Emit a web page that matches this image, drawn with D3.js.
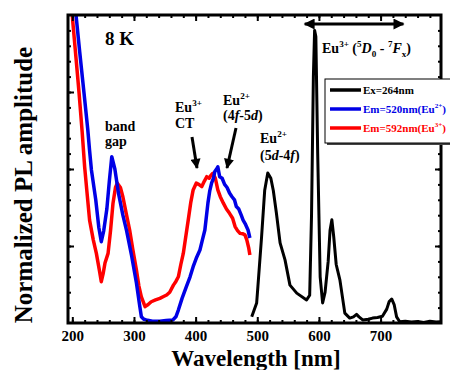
<!DOCTYPE html>
<html>
<head>
<meta charset="utf-8">
<script src="https://cdn.jsdelivr.net/npm/d3@7"></script>
<style>
  body { margin: 0; background: #fff; }
  text { font-family: "Liberation Serif", "Times New Roman", serif; font-weight: bold; }
</style>
</head>
<body>
<div class="chart"></div>
<script>
// wavelength [nm] / normalized amplitude
const exWave = [491, 499, 501, 507, 512, 517, 522, 526, 531, 537, 545, 553, 564, 580, 585, 588, 591, 593, 595, 598, 602, 606, 610, 615, 618, 621, 624, 628, 634, 642, 650, 656, 661, 665, 671, 680, 687, 695, 703, 710, 714, 718, 722, 726, 731, 740, 750, 760, 770, 780, 790, 797];
const exAmp  = [0.02, 0.065, 0.118, 0.28, 0.43, 0.487, 0.47, 0.43, 0.357, 0.26, 0.205, 0.123, 0.097, 0.075, 0.09, 0.35, 0.8, 0.95, 0.93, 0.55, 0.15, 0.065, 0.1, 0.2, 0.3, 0.335, 0.28, 0.19, 0.14, 0.032, 0.016, 0.02, 0.028, 0.02, 0.01, 0.012, 0.016, 0.018, 0.022, 0.045, 0.07, 0.078, 0.06, 0.02, 0.004, 0.006, 0.003, 0.005, 0.002, 0.006, 0.003, 0.004];

const em520Wave = [203, 206, 212, 219, 225, 228, 231, 238, 243, 247, 251, 256, 260, 264, 269, 275, 282, 288, 296, 304, 309, 312, 316, 320, 330, 342, 352, 363, 368, 372, 378, 385, 391, 396, 401, 407, 411, 415, 420, 423, 426, 429, 431, 434, 436, 439, 443, 447, 451, 455, 459, 463, 466, 470, 474, 477, 481, 485, 488];
const em520Amp  = [1.08, 1.0, 0.88, 0.746, 0.63, 0.56, 0.497, 0.4, 0.31, 0.264, 0.3, 0.37, 0.46, 0.54, 0.5, 0.42, 0.35, 0.3, 0.22, 0.13, 0.06, 0.02, 0.012, 0.01, 0.006, 0.006, 0.008, 0.01, 0.02, 0.042, 0.08, 0.118, 0.15, 0.183, 0.21, 0.237, 0.27, 0.302, 0.39, 0.43, 0.455, 0.47, 0.491, 0.5, 0.507, 0.475, 0.47, 0.45, 0.44, 0.422, 0.41, 0.4, 0.378, 0.37, 0.35, 0.334, 0.32, 0.302, 0.276];

const em592Wave = [198, 201, 206, 211, 216, 220, 224, 228, 234, 239, 244, 247, 250, 253, 258, 262, 266, 270, 273, 278, 282, 288, 293, 298, 304, 308, 312, 318, 323, 328, 335, 342, 348, 353, 358, 364, 368, 372, 376, 380, 384, 388, 392, 396, 401, 405, 410, 414, 418, 422, 425, 428, 432, 436, 440, 445, 450, 455, 460, 464, 468, 472, 476, 480, 483, 486, 488];
const em592Amp  = [1.05, 0.973, 0.86, 0.746, 0.62, 0.507, 0.42, 0.334, 0.27, 0.226, 0.17, 0.134, 0.16, 0.195, 0.226, 0.3, 0.389, 0.44, 0.454, 0.44, 0.41, 0.35, 0.302, 0.24, 0.172, 0.12, 0.085, 0.053, 0.06, 0.069, 0.075, 0.08, 0.086, 0.091, 0.1, 0.123, 0.135, 0.15, 0.19, 0.226, 0.28, 0.334, 0.39, 0.432, 0.454, 0.45, 0.443, 0.46, 0.475, 0.47, 0.48, 0.486, 0.47, 0.432, 0.41, 0.389, 0.37, 0.356, 0.34, 0.313, 0.3, 0.291, 0.29, 0.286, 0.27, 0.245, 0.221];

const xTicks = [200, 300, 400, 500, 600, 700];
const legendLabels = ["Ex=264nm", "Em=520nm(Eu", "Em=592nm(Eu"];
const legendSups = ["", "2+", "3+"];
const seriesColors = ["#000000", "#0000e6", "#ff0000"];

const W = 450, H = 370;
const pLeft = 68, pRight = 441, pTop = 15, pBottom = 323;

const svg = d3.select(".chart").append("svg")
    .attr("width", W)
    .attr("height", H);

const x = d3.scaleLinear().domain([193, 798]).range([pLeft, pRight]);
const y = d3.scaleLinear().domain([0, 1]).range([pBottom, pTop]);

svg.append("clipPath").attr("id", "plot")
    .append("rect")
    .attr("x", pLeft).attr("y", pTop)
    .attr("width", pRight - pLeft).attr("height", pBottom - pTop);

// curves
const line = d3.line()
    .x(d => x(d[0]))
    .y(d => y(d[1]));

const series = [
    { w: em592Wave, a: em592Amp, c: seriesColors[2], sw: 3.5 },
    { w: em520Wave, a: em520Amp, c: seriesColors[1], sw: 3.5 },
    { w: exWave, a: exAmp, c: seriesColors[0], sw: 3 }
];
series.forEach(s => {
    svg.append("path")
        .datum(d3.zip(s.w, s.a))
        .attr("clip-path", "url(#plot)")
        .attr("fill", "none")
        .attr("stroke", s.c)
        .attr("stroke-width", s.sw)
        .attr("stroke-linejoin", "round")
        .attr("d", line);
});

// axes with inward ticks on all four sides
const xMinor = d3.range(200, 800, 20);
const yMajor = [0.25, 0.5, 0.75];
const yMinor = d3.range(0.05, 1, 0.05);

function addAxis(axis, tx, ty) {
    const g = svg.append("g")
        .attr("transform", "translate(" + tx + "," + ty + ")")
        .call(axis);
    g.select(".domain").remove();
    g.selectAll(".tick line").attr("stroke", "#000").attr("stroke-width", 2);
    return g;
}

const xb = addAxis(d3.axisBottom(x).tickValues(xTicks).tickSizeInner(-6).tickSizeOuter(0).tickPadding(7), 0, pBottom);
xb.selectAll("text")
    .attr("font-size", 15)
    .attr("font-family", "Liberation Serif, serif")
    .attr("font-weight", "bold")
    .attr("fill", "#000");
addAxis(d3.axisBottom(x).tickValues(xMinor).tickSizeInner(-3).tickSizeOuter(0).tickFormat(""), 0, pBottom);
addAxis(d3.axisTop(x).tickValues(xTicks).tickSizeInner(-6).tickSizeOuter(0).tickFormat(""), 0, pTop);
addAxis(d3.axisTop(x).tickValues(xMinor).tickSizeInner(-3).tickSizeOuter(0).tickFormat(""), 0, pTop);
addAxis(d3.axisLeft(y).tickValues(yMajor).tickSizeInner(-6).tickSizeOuter(0).tickFormat(""), pLeft, 0);
addAxis(d3.axisLeft(y).tickValues(yMinor).tickSizeInner(-3).tickSizeOuter(0).tickFormat(""), pLeft, 0);
addAxis(d3.axisRight(y).tickValues(yMajor).tickSizeInner(-6).tickSizeOuter(0).tickFormat(""), pRight, 0);
addAxis(d3.axisRight(y).tickValues(yMinor).tickSizeInner(-3).tickSizeOuter(0).tickFormat(""), pRight, 0);

// frame
svg.append("rect")
    .attr("x", pLeft).attr("y", pTop)
    .attr("width", pRight - pLeft).attr("height", pBottom - pTop)
    .attr("fill", "none")
    .attr("stroke", "#000")
    .attr("stroke-width", 3);

// axis titles
svg.append("text")
    .attr("x", 256).attr("y", 366)
    .attr("text-anchor", "middle")
    .attr("font-size", 23)
    .text("Wavelength [nm]");
svg.append("text")
    .attr("transform", "translate(32,185) rotate(-90)")
    .attr("text-anchor", "middle")
    .attr("font-size", 25)
    .text("Normalized PL amplitude");

// arrow markers
const defs = svg.append("defs");
defs.append("marker").attr("id", "head")
    .attr("viewBox", "0 0 10 10").attr("refX", 9).attr("refY", 5)
    .attr("markerUnits", "userSpaceOnUse")
    .attr("markerWidth", 11).attr("markerHeight", 10)
    .attr("orient", "auto-start-reverse")
    .append("path").attr("d", "M0,0L10,5L0,10Z").attr("fill", "#000");
defs.append("marker").attr("id", "head2")
    .attr("viewBox", "0 0 10 10").attr("refX", 9).attr("refY", 5)
    .attr("markerUnits", "userSpaceOnUse")
    .attr("markerWidth", 15).attr("markerHeight", 11)
    .attr("orient", "auto-start-reverse")
    .append("path").attr("d", "M0,0L10,5L0,10Z").attr("fill", "#000");

svg.append("line")
    .attr("x1", 192).attr("y1", 137).attr("x2", 197).attr("y2", 168)
    .attr("stroke", "#000").attr("stroke-width", 3)
    .attr("marker-end", "url(#head)");
svg.append("line")
    .attr("x1", 236).attr("y1", 128).attr("x2", 227).attr("y2", 168)
    .attr("stroke", "#000").attr("stroke-width", 3)
    .attr("marker-end", "url(#head)");
svg.append("line")
    .attr("x1", x(577)).attr("y1", 24).attr("x2", x(737)).attr("y2", 24)
    .attr("stroke", "#000").attr("stroke-width", 3)
    .attr("marker-start", "url(#head2)")
    .attr("marker-end", "url(#head2)");

// annotations
function label(tx, ty, parts, size) {
    const t = svg.append("text").attr("x", tx).attr("y", ty).attr("font-size", size);
    let shift = 0;
    parts.forEach(p => {
        const sp = t.append("tspan").text(p.t);
        const want = p.sup ? -size * 0.42 : (p.sub ? size * 0.3 : 0);
        if (want !== shift) { sp.attr("dy", want - shift); shift = want; }
        if (p.sup || p.sub) sp.attr("font-size", size * 0.65);
        if (p.i) sp.attr("font-style", "italic");
        if (p.c) sp.attr("fill", p.c);
    });
    return t;
}

label(105, 45, [{ t: "8 K" }], 19);
label(105, 131, [{ t: "band" }], 14);
label(105, 146, [{ t: "gap" }], 14);
label(175, 112, [{ t: "Eu" }, { t: "3+", sup: true }], 14);
label(175, 128, [{ t: "CT" }], 14);
label(223, 105, [{ t: "Eu" }, { t: "2+", sup: true }], 14);
label(223, 120, [{ t: "(4" }, { t: "f", i: true }, { t: "-5" }, { t: "d", i: true }, { t: ")" }], 14);
label(260, 143, [{ t: "Eu" }, { t: "2+", sup: true }], 14);
label(260, 160, [{ t: "(5" }, { t: "d", i: true }, { t: "-4" }, { t: "f", i: true }, { t: ")" }], 14);
label(322, 53, [{ t: "Eu" }, { t: "3+", sup: true }, { t: " (" }, { t: "5", sup: true }, { t: "D", i: true },
    { t: "0", sub: true }, { t: " - " }, { t: "7", sup: true }, { t: "F", i: true }, { t: "x", sub: true }, { t: ")" }], 14);

// legend
svg.append("rect")
    .attr("x", 327).attr("y", 81).attr("width", 130).attr("height", 64)
    .attr("fill", "#444");
svg.append("rect")
    .attr("x", 325).attr("y", 79).attr("width", 130).attr("height", 64)
    .attr("fill", "#fff").attr("stroke", "#000").attr("stroke-width", 1);

const legendY = d3.scalePoint().domain(legendLabels).range([90, 128]);
legendLabels.forEach((name, i) => {
    const ly = legendY(name);
    svg.append("line")
        .attr("x1", 330).attr("x2", 361).attr("y1", ly).attr("y2", ly)
        .attr("stroke", seriesColors[i]).attr("stroke-width", 3.5);
    const parts = [{ t: name, c: seriesColors[i] }];
    if (legendSups[i]) {
        parts.push({ t: legendSups[i], sup: true, c: seriesColors[i] });
        parts.push({ t: ")", c: seriesColors[i] });
    }
    label(363, ly + 4, parts, 11);
});
</script>
</body>
</html>
